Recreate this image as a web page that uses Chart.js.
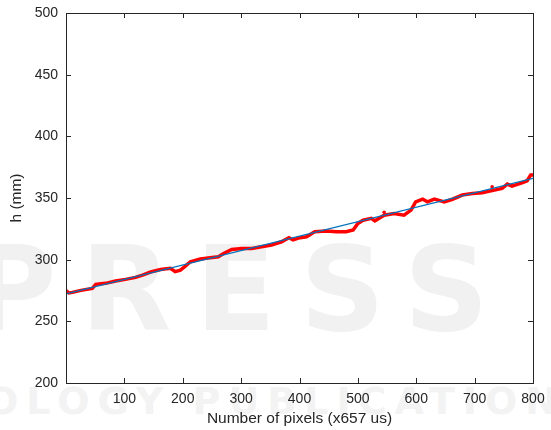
<!DOCTYPE html>
<html>
<head>
<meta charset="utf-8">
<script src="https://cdn.jsdelivr.net/npm/chart.js@4"></script>
<style>
  html, body { margin: 0; padding: 0; background: #fff; }
  #wrap { position: relative; width: 551px; height: 430px; overflow: hidden; }
  .wm { position: absolute; color: #f1f1f1; font-family: "DejaVu Sans", sans-serif; font-weight: bold; white-space: nowrap; line-height: 1; }
  #wm1 { left: -30px; top: 230px; font-size: 118px; letter-spacing: 24px; }
  #wm2 { left: -14px; top: 382px; font-size: 38px; letter-spacing: 8px; color: #f3f3f3; }
  canvas { position: absolute; left: 0; top: 0; }
</style>
</head>
<body>
<div id="wrap">
  <div class="wm" id="wm1">PRESS</div>
  <div class="wm" id="wm2">OLOGY PUBLICATIONS</div>
  <canvas id="c" width="551" height="430"></canvas>
</div>
<script>
const measX = [0, 5, 11, 20, 28, 45, 51, 60, 68, 85, 102, 119, 131, 145, 162, 179, 187, 196, 205, 213, 230, 247, 261, 270, 284, 301, 318, 335, 352, 369, 382, 389, 398, 412, 426, 446, 463, 480, 492, 500, 509, 523, 529, 545, 562, 579, 591, 599, 611, 619, 631, 648, 662, 679, 696, 713, 730, 747, 756, 764, 781, 790, 796, 800];
const measY = [275, 273, 273.5, 274.5, 275.3, 276.7, 280, 280.5, 280.8, 282.7, 284, 285.6, 287.5, 290, 292, 293, 290.3, 291.5, 295, 298.3, 300.5, 301.5, 302.4, 305, 308.3, 309.1, 309.1, 310.5, 311.8, 314.5, 317.8, 316, 317.5, 318.6, 322.6, 323.2, 322.6, 322.6, 324, 329.4, 332, 333.5, 331.5, 336, 337.5, 336.1, 340.2, 346.9, 349.1, 346.9, 349.1, 346.9, 349, 352.4, 353.7, 354.2, 356, 357.8, 361.3, 359.6, 362.3, 364, 368.6, 368.6];
// Isolated red dots
const strayX = [545, 730];
const strayY = [338.5, 359];
// Linear fit (blue)
const fitX = [0, 800];
const fitY = [272.2, 366];
// Axes
const xTicks = [100, 200, 300, 400, 500, 600, 700, 800];
const yTicks = [200, 250, 300, 350, 400, 450, 500];
const xTitle = 'Number of pixels (x657 us)';
const yTitle = 'h (mm)';

const pts = (xs, ys) => xs.map((x, i) => ({x: x, y: ys[i]}));
const axisColor = '#262626';
const fontFam = '"Liberation Sans", Arial, Helvetica, sans-serif';

const boxTicks = {
  id: 'boxTicks',
  afterDatasetsDraw(chart) {
    const {ctx, chartArea: a, scales} = chart;
    ctx.save();
    ctx.strokeStyle = axisColor;
    ctx.lineWidth = 1;
    ctx.strokeRect(Math.round(a.left) + 0.5, Math.round(a.top) + 0.5, Math.round(a.right - a.left), Math.round(a.bottom - a.top));
    const L = 5;
    ctx.beginPath();
    xTicks.forEach(v => {
      const px = Math.round(scales.x.getPixelForValue(v)) + 0.5;
      ctx.moveTo(px, a.bottom); ctx.lineTo(px, a.bottom - L);
      ctx.moveTo(px, a.top); ctx.lineTo(px, a.top + L);
    });
    yTicks.forEach(v => {
      const py = Math.round(scales.y.getPixelForValue(v)) + 0.5;
      ctx.moveTo(a.left, py); ctx.lineTo(a.left + L, py);
      ctx.moveTo(a.right, py); ctx.lineTo(a.right - L, py);
    });
    ctx.stroke();
    ctx.restore();
  }
};

new Chart(document.getElementById('c'), {
  type: 'scatter',
  data: {
    datasets: [
      { data: pts(measX, measY), showLine: true, borderColor: '#ff0000', backgroundColor: '#ff0000', borderWidth: 3.5, pointRadius: 0, tension: 0, order: 2 },
      { data: pts(strayX, strayY), showLine: false, borderColor: '#ff0000', backgroundColor: '#ff0000', pointRadius: 1.8, borderWidth: 0, order: 2 },
      { data: pts(fitX, fitY), showLine: true, borderColor: '#0072BD', borderWidth: 1.2, pointRadius: 0, tension: 0, order: 1 }
    ]
  },
  options: {
    responsive: false,
    animation: false,
    devicePixelRatio: 1,
    layout: { padding: { left: 0, right: 18, top: 13, bottom: 0 } },
    plugins: { legend: { display: false }, tooltip: { enabled: false } },
    scales: {
      x: {
        type: 'linear', min: 0, max: 800,
        afterBuildTicks: s => { s.ticks = xTicks.map(v => ({value: v})); },
        afterFit: s => { s.height = 47; s.paddingLeft = 0; s.paddingRight = 0; },
        grid: { display: false, drawTicks: false },
        border: { display: false },
        ticks: { color: axisColor, font: { family: fontFam, size: 14 }, padding: 8, maxRotation: 0, autoSkip: false },
        title: { display: true, text: xTitle, color: axisColor, font: { family: fontFam, size: 15.5 }, padding: { top: 0, bottom: 2 } }
      },
      y: {
        type: 'linear', min: 200, max: 500,
        afterBuildTicks: s => { s.ticks = yTicks.map(v => ({value: v})); },
        afterFit: s => { s.width = 66; s.paddingTop = 0; s.paddingBottom = 0; },
        grid: { display: false, drawTicks: false },
        border: { display: false },
        ticks: { color: axisColor, font: { family: fontFam, size: 14 }, padding: 8, autoSkip: false },
        title: { display: true, text: yTitle, color: axisColor, font: { family: fontFam, size: 15.5 }, padding: { top: 7, bottom: 0 } }
      }
    }
  },
  plugins: [boxTicks]
});
</script>
</body>
</html>
